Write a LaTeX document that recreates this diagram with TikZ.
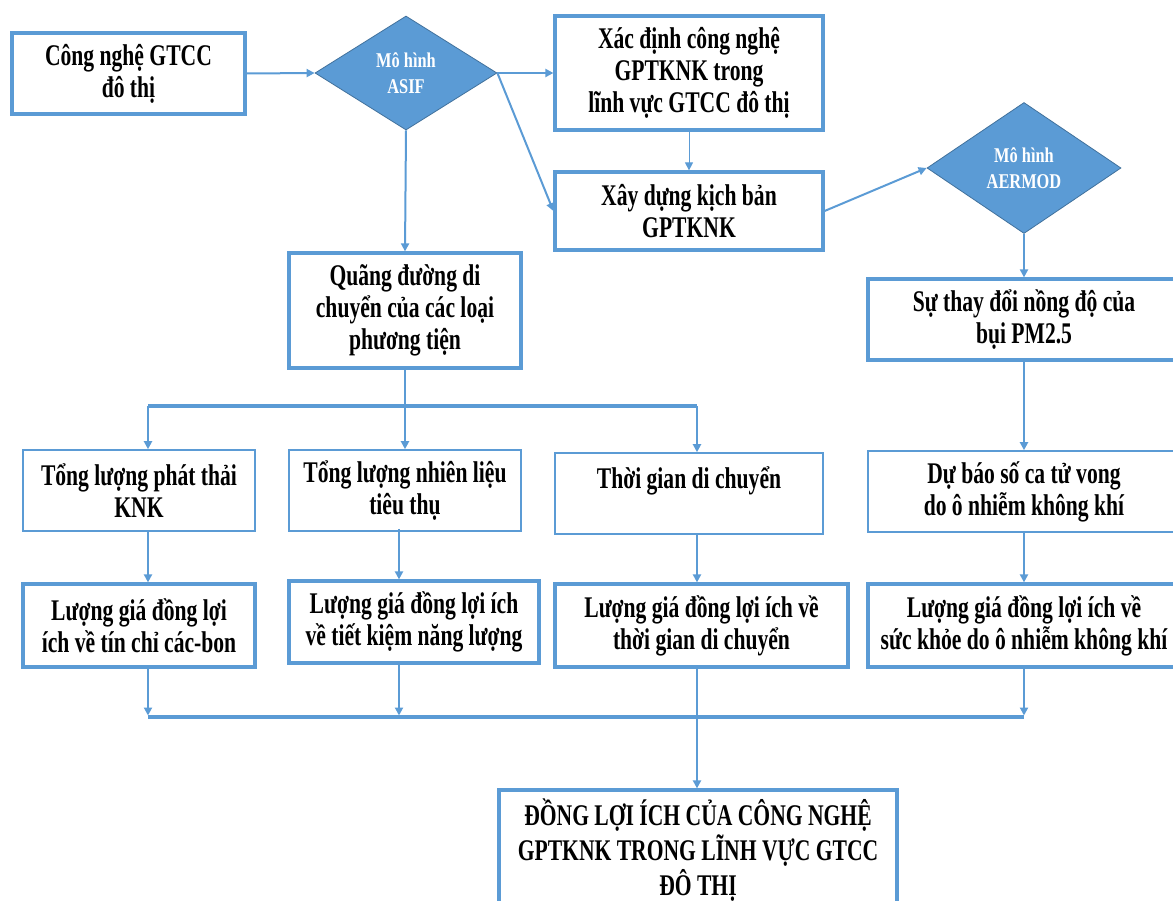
\documentclass[tikz,border=0pt]{standalone}
\usepackage{fontspec}
\usetikzlibrary{shapes.geometric,arrows.meta}
\newfontfamily\tnr{Liberation Serif}[FakeStretch=0.72]
\newfontfamily\tnrd{Liberation Serif}[FakeStretch=0.78]
\newcommand\boxfont{\tnr\bfseries\fontsize{30}{32}\selectfont}
\newcommand\bigboxfont{\tnr\bfseries\fontsize{30}{35}\selectfont}
\newcommand\diafont{\tnrd\bfseries\fontsize{21}{26}\selectfont}
\definecolor{lineblue}{HTML}{5B9BD5}
\definecolor{diaedge}{HTML}{41719C}
\tikzset{
  conn/.style={draw=lineblue, line width=2pt},
  arr/.style={conn, -{Triangle[length=8pt,width=8pt]}},
  bus/.style={draw=lineblue, line width=3.2pt},
  thickbox/.style={rectangle, draw=lineblue, line width=3.2pt, fill=white, inner sep=0pt, align=center, font=\boxfont},
  thinbox/.style={rectangle, draw=lineblue, line width=1.6pt, fill=white, inner sep=0pt, align=center, font=\boxfont},
  dia/.style={diamond, fill=lineblue, draw=diaedge, line width=0.8pt, text=white, font=\diafont, inner sep=0pt, align=center},
}
\begin{document}
\begin{tikzpicture}[x=1pt,y=-1pt]
\path[use as bounding box] (0,0) rectangle (1173,901);
\clip (0,0) rectangle (1173,901);
% nodes
\node[thickbox, minimum width=233, minimum height=81] (b1) at (128.5,73.5) {Công nghệ GTCC\\đô thị};
\node[dia, minimum width=182, minimum height=114] (asif) at (406,73) {Mô hình\\ASIF};
\node[thickbox, minimum width=268, minimum height=114] (b2) at (689,73) {Xác định công nghệ\\GPTKNK trong\\lĩnh vực GTCC đô thị};
\node[thickbox, minimum width=268, minimum height=78] (b3) at (689,211) {Xây dựng kịch bản\\GPTKNK};
\node[dia, minimum width=194, minimum height=131] (aermod) at (1024,168) {Mô hình\\AERMOD};
\node[thickbox, minimum width=232, minimum height=115] (b4) at (405,310.5) {Quãng đường di\\chuyển của các loại\\phương tiện};
\node[thickbox, minimum width=312, minimum height=81] (b5) at (1024,319.5) {Sự thay đổi nồng độ của\\bụi PM2.5};
\node[thinbox, minimum width=232, minimum height=81] (b6) at (139,490.5) {Tổng lượng phát thải\\KNK};
\node[thinbox, minimum width=232, minimum height=81] (b7) at (405,490.5) {Tổng lượng nhiên liệu\\tiêu thụ};
\node[thinbox, minimum width=268, minimum height=81] (b8) at (689,493.5) {Thời gian di chuyển\\\phantom{x}};
\node[thinbox, minimum width=312, minimum height=81] (b9) at (1024,491.5) {Dự báo số ca tử vong\\do ô nhiễm không khí};
\node[thickbox, minimum width=232, minimum height=83] (b10) at (139,625.5) {Lượng giá đồng lợi\\ích về tín chỉ các-bon};
\node[thickbox, minimum width=250, minimum height=82] (b11) at (414,622) {Lượng giá đồng lợi ích\\về tiết kiệm năng lượng};
\node[thickbox, minimum width=293, minimum height=83] (b12) at (701.5,625.5) {Lượng giá đồng lợi ích về\\thời gian di chuyển};
\node[thickbox, minimum width=312, minimum height=83] (b13) at (1024,625.5) {Lượng giá đồng lợi ích về\\sức khỏe do ô nhiễm không khí};
\node[thickbox, font=\bigboxfont, minimum width=398, minimum height=120] (b14) at (698,850) {ĐỒNG LỢI ÍCH CỦA CÔNG NGHỆ\\GPTKNK TRONG LĨNH VỰC GTCC\\ĐÔ THỊ};
% helper coordinates
\coordinate (busL) at (148,406);
\coordinate (busR) at (697,406);
\coordinate (lbL) at (148,717);
\coordinate (lbR) at (1024,717);
\coordinate (xnl) at (399,0);
% connectors
\draw[arr] (b1.east) -- (asif.west);
\draw[arr] (asif.east) -- (b2.west);
\draw[arr] (asif.east) -- (b3.west);
\draw[arr, line width=1pt] (b2.south) -- (b3.north);
\draw[arr] (b3.east) -- (aermod.west);
\draw[arr] (aermod.south) -- (b5.north);
\draw[arr] (asif.south) -- (b4.north);
\draw[bus] (busL) -- (busR);
\draw[conn] (b4.south) -- (b4.south |- busL);
\draw[arr] (busL) -- (b6.north -| busL);
\draw[arr] (b4.south |- busL) -- (b7.north);
\draw[arr] (busR) -- (b8.north -| busR);
\draw[arr] (b5.south) -- (b9.north);
\draw[arr] (b6.south -| busL) -- (b10.north -| busL);
\draw[arr] ([yshift=3pt]b7.south -| xnl) -- (b11.north -| xnl);
\draw[arr] (b8.south -| busR) -- (b12.north -| busR);
\draw[arr] (b9.south) -- (b13.north);
\draw[bus] (lbL) -- (lbR);
\draw[arr, shorten >=1.5pt] (b10.south -| lbL) -- (lbL);
\draw[arr, shorten >=1.5pt] (b11.south -| xnl) -- (xnl |- lbL);
\draw[arr, shorten >=1.5pt] (b13.south) -- (lbR);
\draw[arr] (b12.south -| busR) -- (b14.north -| busR);
\end{tikzpicture}
\end{document}
